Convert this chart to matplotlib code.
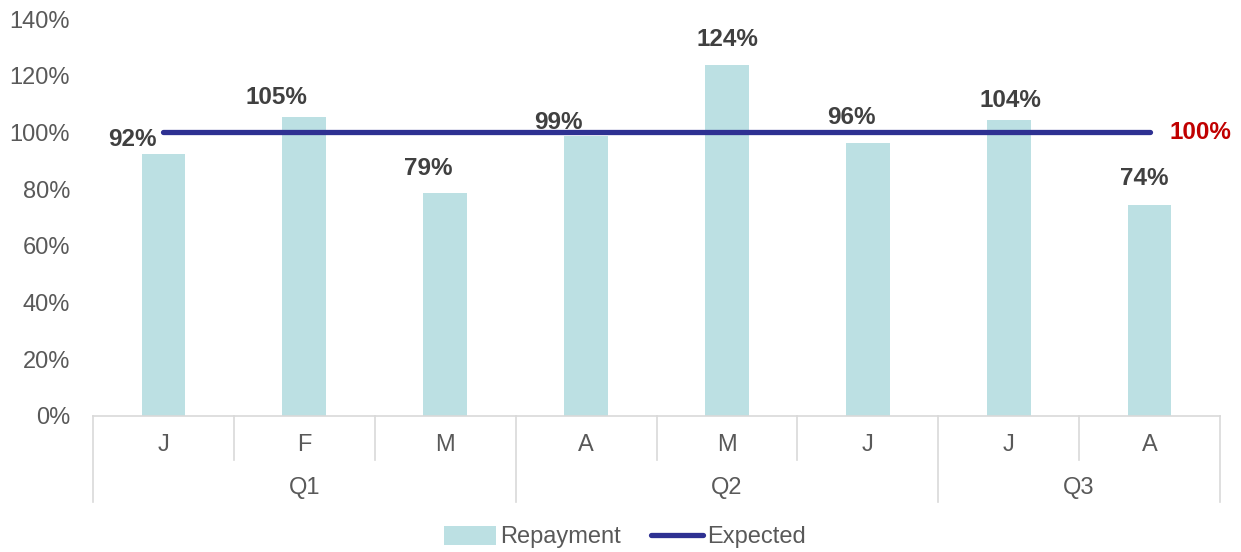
import matplotlib
matplotlib.use("Agg")
import matplotlib.pyplot as plt
from matplotlib.patches import Patch
from matplotlib.lines import Line2D

plt.rcParams['font.family'] = ['Liberation Sans', 'DejaVu Sans']

months = ["J", "F", "M", "A", "M", "J", "J", "A"]
quarters = ["Q1", "Q2", "Q3"]
quarter_sizes = [3, 3, 2]
repayment = [0.924, 1.054, 0.786, 0.987, 1.238, 0.963, 1.044, 0.744]
expected = [1.0] * 8
yticks = [0, 0.2, 0.4, 0.6, 0.8, 1.0, 1.2, 1.4]

# label placement tweaks (layout, not data)
label_dx = [-0.22, -0.2, -0.12, -0.2, 0.0, -0.12, 0.01, -0.04]
label_dy = [0.052, 0.07, 0.088, 0.049, 0.088, 0.088, 0.07, 0.095]

fig = plt.figure(figsize=(12.41, 5.52), dpi=100)
ax = fig.add_axes([93/1241, 1-416/552, (1220-93)/1241, 397/552])

FS = 17
x = list(range(len(months)))
bar_color = "#BCE0E3"
line_color = "#2E3192"
ax.bar(x, repayment, width=0.31, color=bar_color, zorder=2)
ax.plot(x, expected, color=line_color, lw=3.8, solid_capstyle='round', zorder=3)

for i, v in enumerate(repayment):
    ax.text(i + label_dx[i], v + label_dy[i], f"{round(v*100):.0f}%",
            ha='center', va='center', fontsize=17.5, fontweight='bold',
            color='#404040', zorder=4)

ax.text(len(months) - 1 + 0.14, expected[-1], "100%", ha='left', va='center',
        fontsize=17.5, fontweight='bold', color='#C00000', clip_on=False)

ax.set_xlim(-0.5, len(months) - 0.5)
ax.set_ylim(0, 1.4)
ax.set_yticks(yticks)
ax.set_yticklabels([f"{int(round(t*100))}%" for t in yticks], fontsize=FS, color='#595959')
ax.tick_params(axis='y', length=0, pad=16.5)
ax.set_xticks([])
for s in ['top', 'right', 'left']:
    ax.spines[s].set_visible(False)
ax.spines['bottom'].set_color('#D9D9D9')
ax.spines['bottom'].set_linewidth(1.2)

tr = ax.get_xaxis_transform()
sep_color = '#D9D9D9'
# month labels
for i, m in enumerate(months):
    ax.text(i, -0.073, m, transform=tr, ha='center', va='center',
            fontsize=FS, color='#595959', clip_on=False)
# separators
qbounds = [-0.5]
for s in quarter_sizes:
    qbounds.append(qbounds[-1] + s)
for b in [k - 0.5 for k in range(len(months) + 1)]:
    if b in qbounds:
        ax.plot([b, b], [0, -0.217], transform=tr, color=sep_color, lw=1.2, clip_on=False)
    else:
        ax.plot([b, b], [0, -0.111], transform=tr, color=sep_color, lw=1.2, clip_on=False)
for q, a, b in zip(quarters, qbounds[:-1], qbounds[1:]):
    ax.text((a + b) / 2, -0.181, q, transform=tr, ha='center', va='center',
            fontsize=FS, color='#595959', clip_on=False)

handles = [Patch(facecolor=bar_color, edgecolor='none', label='Repayment'),
           Line2D([0], [0], color=line_color, lw=3.8, solid_capstyle='round', label='Expected')]
fig.legend(handles=handles, loc='center', bbox_to_anchor=(625/1241, 1-537/552), ncol=2,
           frameon=False, fontsize=FS, labelcolor='#595959', handlelength=2.2,
           handletextpad=0.15, columnspacing=1.3, handleheight=0.9)

fig.savefig("out.png", dpi=100)
